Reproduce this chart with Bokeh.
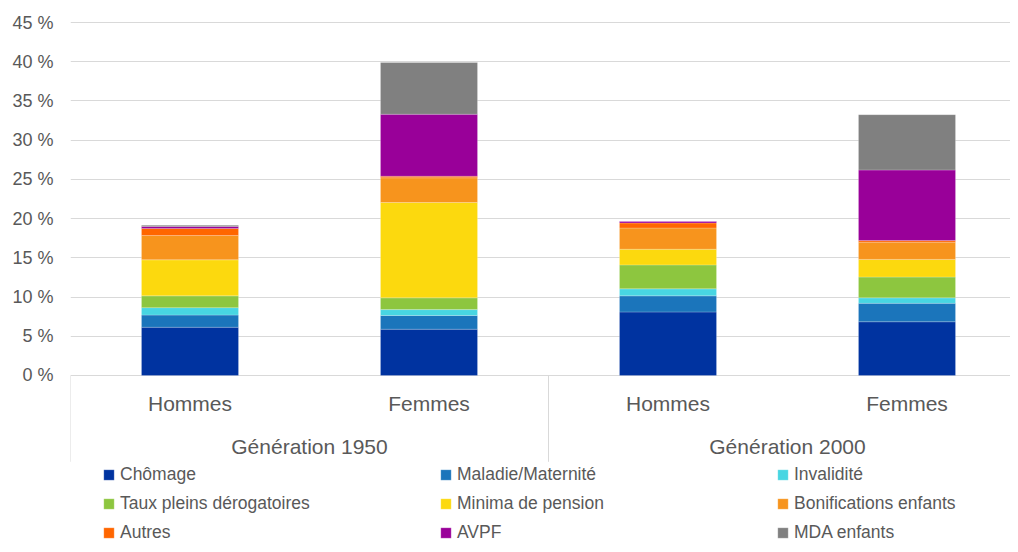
from bokeh.plotting import figure
from bokeh.models import ColumnDataSource, Range1d, FixedTicker
from bokeh.core.properties import value
from bokeh.embed import file_html
from bokeh.resources import INLINE

# ---- data ----
categories = ["Hommes", "Femmes", "Hommes", "Femmes"]
generations = ["Génération 1950", "Génération 2000"]
series_names = ["Chômage", "Maladie/Maternité", "Invalidité",
                "Taux pleins dérogatoires", "Minima de pension", "Bonifications enfants",
                "Autres", "AVPF", "MDA enfants"]
chomage = [6.15, 5.9, 8.1, 6.85]
maladie = [1.55, 1.75, 2.05, 2.35]
invalidite = [0.95, 0.75, 0.9, 0.7]
taux_pleins = [1.5, 1.5, 3.05, 2.65]
minima = [4.6, 12.15, 2.0, 2.25]
bonifications = [3.1, 3.15, 2.7, 2.2]
autres = [0.9, 0.2, 0.65, 0.2]
avpf = [0.25, 7.9, 0.2, 9.0]
mda = [0.15, 6.6, 0.0, 7.05]
y_ticks = [0, 5, 10, 15, 20, 25, 30, 35, 40, 45]
y_tick_labels = ["0 %", "5 %", "10 %", "15 %", "20 %", "25 %", "30 %", "35 %", "40 %", "45 %"]
colors = ["#0033A0", "#1B75BB", "#48D6E2", "#8DC63F", "#FCD90E",
          "#F7941D", "#FF6600", "#990099", "#808080"]

TEXT = "#595959"
FONT = "Liberation Sans"
GRID = "#d9d9d9"

keys = ["s%d" % i for i in range(len(series_names))]
xpos = [i + 0.5 for i in range(len(categories))]
data = dict(x=xpos)
for k, vals in zip(keys, [chomage, maladie, invalidite, taux_pleins, minima,
                          bonifications, autres, avpf, mda]):
    data[k] = vals
source = ColumnDataSource(data)

p = figure(width=1010, height=544, output_backend="svg", toolbar_location=None,
           x_range=Range1d(0, 940 / 239), y_range=Range1d(-21.545, 46.02),
           min_border_left=70, min_border_right=0, min_border_top=14, min_border_bottom=0)
p.outline_line_color = None
p.background_fill_color = "white"
p.border_fill_color = "white"
p.xaxis.visible = False
p.xgrid.visible = False

p.yaxis.ticker = FixedTicker(ticks=y_ticks)
p.yaxis.major_label_overrides = {t: l for t, l in zip(y_ticks, y_tick_labels)}
p.yaxis.axis_line_color = None
p.yaxis.major_tick_line_color = None
p.yaxis.minor_tick_line_color = None
p.yaxis.major_tick_out = 0
p.yaxis.major_tick_in = 0
p.yaxis.major_label_standoff = 17
p.yaxis.major_label_text_font = FONT
p.yaxis.major_label_text_font_size = "18px"
p.yaxis.major_label_text_color = TEXT

p.ygrid.ticker = FixedTicker(ticks=y_ticks)
p.ygrid.grid_line_color = GRID
p.ygrid.grid_line_width = 1

p.vbar_stack(keys, x="x", width=0.406, source=source, color=colors,
             line_color="white", line_alpha=0.35, line_width=0.6,
             legend_label=series_names)

# category-axis box
n_groups = len(generations)
per_group = len(categories) // n_groups
bounds = [g * per_group for g in range(n_groups + 1)]
p.segment(x0=bounds, y0=[0] * len(bounds), x1=bounds, y1=[-11.0] * len(bounds),
          line_color=GRID, line_width=1)

p.text(x=xpos, y=[-3.57] * len(xpos), text=categories, text_align="center",
       text_baseline="middle", text_font=value(FONT), text_font_size="21px",
       text_color=TEXT)
gx = [g * per_group + per_group / 2 for g in range(n_groups)]
p.text(x=gx, y=[-9.05] * len(gx), text=generations, text_align="center",
       text_baseline="middle", text_font=value(FONT), text_font_size="21px",
       text_color=TEXT)

leg = p.legend[0]
leg.orientation = "horizontal"
leg.ncols = 3
leg.location = (32, 1)
leg.glyph_width = 13
leg.glyph_height = 13
leg.label_standoff = 5
leg.label_width = 311
leg.label_height = 13
leg.spacing = 8
leg.padding = 0
leg.margin = 0
leg.border_line_color = None
leg.background_fill_alpha = 0
leg.label_text_font = FONT
leg.label_text_font_size = "17.5px"
leg.label_text_color = TEXT

open("out.html", "w").write(file_html(p, INLINE))
